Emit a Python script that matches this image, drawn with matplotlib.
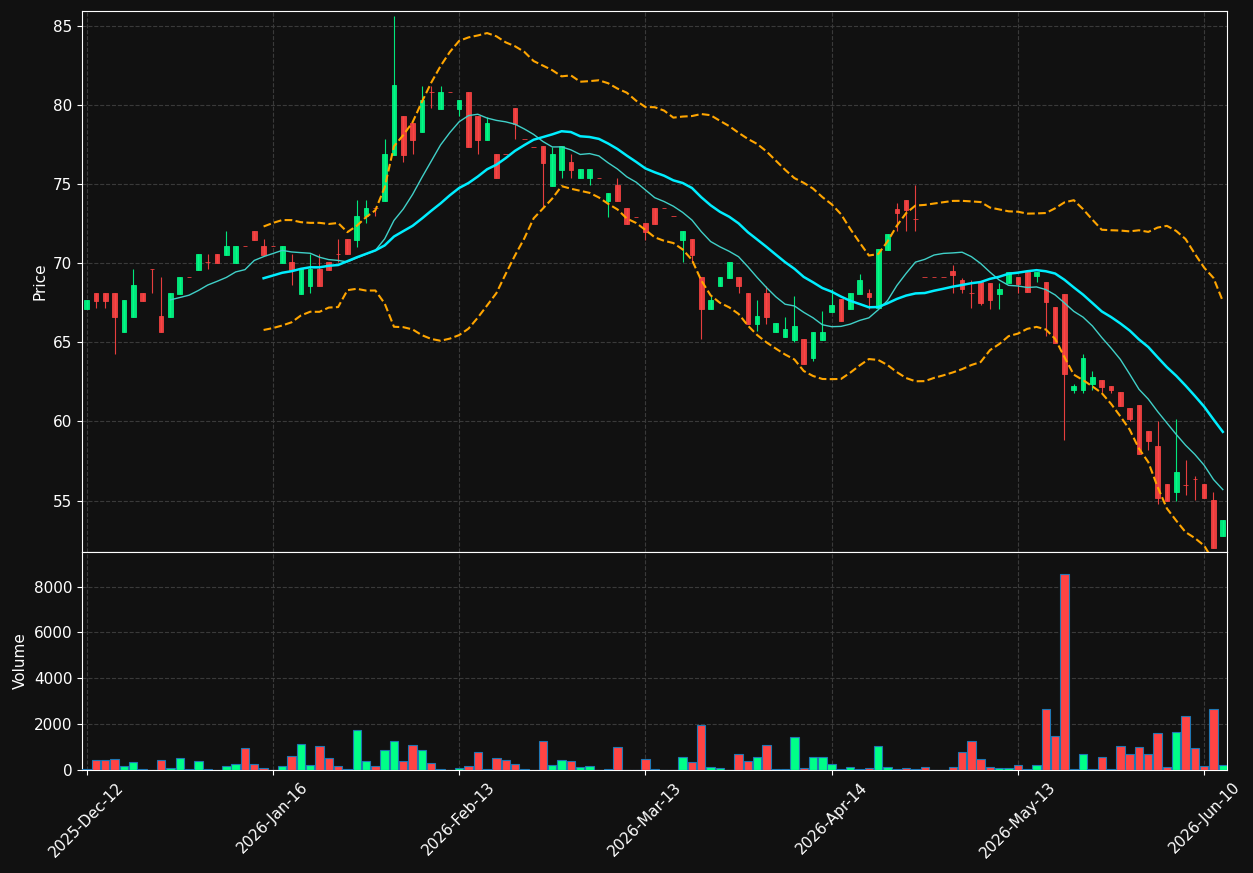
import numpy as np
import pandas as pd
import matplotlib
matplotlib.use("Agg")
import matplotlib.pyplot as plt

# ---------------- data ----------------
opens = [67.11, 68.12, 68.12, 68.12, 65.68, 66.63, 68.12, 69.62, 66.67, 66.63,
         68.08, 69.12, 69.60, 70.06, 70.59, 70.55, 70.04, 71.07, 72.02, 71.10,
         71.10, 70.05, 70.07, 68.07, 68.58, 69.63, 70.07, 70.58, 71.55, 71.48,
         72.98, 73.48, 73.97, 76.87, 79.32, 78.85, 78.33, 80.83, 79.78, 80.83,
         79.78, 80.82, 79.30, 77.78, 76.90, 76.88, 79.81, 77.83, 77.38, 77.41,
         74.89, 75.89, 76.39, 75.40, 75.40, 75.42, 73.92, 74.94, 73.48, 72.95,
         72.53, 73.50, 73.48, 72.97, 71.48, 71.54, 69.11, 67.13, 68.59, 69.09,
         69.13, 68.12, 66.18, 68.12, 65.68, 65.36, 65.15, 65.21, 64.01, 65.15,
         66.94, 67.74, 67.13, 68.08, 68.12, 67.15, 70.86, 73.44, 74.01, 72.78,
         69.11, 69.11, 69.11, 69.51, 68.95, 68.10, 68.84, 68.73, 68.08, 68.73,
         69.14, 69.45, 69.20, 68.82, 67.23, 68.06, 62.02, 62.02, 62.40, 62.61,
         62.23, 61.85, 60.84, 61.03, 59.42, 58.43, 56.02, 55.54, 56.00, 56.36,
         56.02, 55.01, 52.75]
highs = [67.68, 68.12, 68.12, 68.12, 67.68, 69.62, 68.12, 69.62, 69.12, 68.12,
         69.14, 69.12, 70.59, 70.57, 70.59, 72.02, 71.10, 71.07, 72.02, 71.54,
         71.10, 71.11, 70.58, 69.63, 70.58, 70.58, 70.07, 71.53, 71.55, 73.99,
         73.99, 73.48, 77.84, 85.63, 79.32, 78.85, 81.21, 81.21, 81.21, 80.83,
         80.33, 80.82, 79.30, 79.26, 76.90, 76.88, 79.81, 77.83, 77.38, 77.41,
         77.36, 77.41, 76.90, 75.95, 75.95, 75.42, 74.43, 75.42, 73.48, 72.95,
         72.53, 73.50, 73.48, 72.97, 72.05, 71.54, 69.11, 68.00, 69.13, 70.08,
         69.13, 68.12, 67.68, 68.59, 66.22, 66.58, 67.91, 65.21, 65.68, 66.98,
         68.40, 67.74, 68.10, 69.32, 68.38, 70.91, 71.86, 73.82, 74.01, 74.94,
         69.11, 69.11, 69.11, 69.87, 69.09, 68.95, 68.84, 68.73, 68.73, 69.47,
         69.14, 69.45, 69.45, 68.82, 67.23, 68.06, 62.40, 64.24, 63.22, 62.61,
         62.23, 61.85, 60.84, 61.03, 59.42, 60.01, 56.02, 60.14, 57.59, 56.55,
         56.02, 55.54, 53.79]
lows = [67.11, 67.16, 67.16, 64.25, 65.68, 66.63, 67.62, 68.10, 65.68, 66.63,
        68.08, 69.12, 69.60, 69.62, 70.02, 70.55, 70.04, 71.07, 71.50, 70.53,
        71.10, 70.05, 68.62, 68.07, 68.12, 68.58, 69.59, 70.07, 70.56, 71.06,
        72.54, 73.00, 73.97, 76.87, 76.39, 76.89, 78.33, 79.80, 79.78, 80.83,
        79.32, 77.36, 76.88, 77.78, 75.40, 76.88, 77.83, 77.83, 77.38, 73.57,
        74.89, 75.40, 75.40, 75.40, 74.92, 75.42, 72.93, 73.92, 72.47, 72.95,
        71.47, 72.51, 73.48, 72.97, 70.08, 70.10, 65.19, 67.13, 68.59, 69.09,
        68.10, 66.18, 65.72, 66.18, 65.68, 65.36, 65.02, 63.65, 63.84, 65.15,
        66.94, 66.37, 67.13, 68.08, 67.13, 67.15, 70.86, 72.03, 72.03, 72.03,
        69.11, 69.11, 69.11, 68.10, 68.10, 67.15, 67.36, 67.13, 67.13, 68.73,
        68.10, 68.18, 68.80, 65.40, 64.98, 58.81, 61.83, 61.83, 62.02, 61.87,
        61.81, 61.00, 60.01, 57.97, 58.22, 54.80, 54.97, 54.97, 55.37, 55.01,
        55.16, 52.00, 52.75]
closes = [67.68, 67.62, 67.62, 66.63, 67.68, 68.63, 67.62, 69.62, 65.68, 68.12,
          69.14, 69.12, 70.59, 70.06, 70.02, 71.10, 71.10, 71.07, 71.50, 70.53,
          71.10, 71.11, 69.59, 69.63, 69.63, 68.58, 69.59, 70.58, 70.56, 73.00,
          73.48, 73.48, 76.92, 81.27, 76.87, 77.80, 80.33, 80.83, 80.83, 80.83,
          80.33, 77.36, 77.78, 78.86, 75.40, 76.88, 78.82, 77.83, 77.38, 76.35,
          76.90, 77.41, 75.89, 75.95, 75.95, 75.42, 74.43, 73.92, 72.47, 72.95,
          71.99, 72.51, 73.48, 72.97, 72.05, 70.55, 67.13, 67.68, 69.13, 70.08,
          68.59, 66.18, 66.67, 66.62, 66.22, 65.84, 66.03, 63.65, 65.68, 65.68,
          67.36, 66.37, 68.10, 68.95, 67.89, 70.91, 71.86, 73.16, 73.38, 72.78,
          69.11, 69.11, 69.11, 69.26, 68.35, 68.10, 67.51, 67.70, 68.35, 69.47,
          68.70, 68.18, 69.45, 67.57, 64.98, 63.01, 62.23, 64.00, 62.80, 62.19,
          62.02, 61.00, 60.16, 57.97, 58.77, 55.16, 54.97, 56.78, 56.00, 56.36,
          55.16, 52.00, 53.79]
volumes = [58, 437, 437, 495, 189, 364, 25, 0, 451, 102,
           538, 25, 407, 25, 0, 189, 276, 975, 276, 102,
           0, 189, 626, 1150, 233, 1062, 538, 189, 58, 1760,
           407, 189, 888, 1280, 407, 1106, 888, 320, 25, 0,
           102, 189, 800, 58, 538, 451, 276, 25, 0, 1280,
           233, 451, 407, 145, 189, 0, 25, 1018, 0, 0,
           495, 25, 0, 0, 582, 364, 1979, 145, 102, 0,
           713, 407, 582, 1106, 25, 58, 1455, 102, 582, 582,
           276, 25, 145, 25, 102, 1062, 145, 58, 102, 58,
           145, 0, 0, 145, 800, 1280, 495, 145, 102, 102,
           233, 25, 233, 2677, 1499, 8570, 58, 713, 25, 582,
           25, 1062, 713, 1018, 713, 1630, 145, 1673, 2372, 975,
           189, 2677, 233]
tick_positions = [0, 20, 40, 60, 80, 100, 120]
tick_labels = ["2025-Dec-12", "2026-Jan-16", "2026-Feb-13", "2026-Mar-13",
               "2026-Apr-14", "2026-May-13", "2026-Jun-10"]

# ---------------- styling ----------------
BG = '#111111'
UP = '#00ff88'
DOWN = '#ff4444'
GRID = '#3a3a3a'
FS = 11

df = pd.DataFrame({'Open': opens, 'High': highs, 'Low': lows,
                   'Close': closes, 'Volume': volumes})
x = np.arange(len(df))
sma10 = df['Close'].rolling(10).mean()
sma20 = df['Close'].rolling(20).mean()
std20 = df['Close'].rolling(20).std(ddof=0)
upper = sma20 + 2 * std20
lower = sma20 - 2 * std20

up = (df['Close'] > df['Open']).values
colors = np.where(up, UP, DOWN)

fig = plt.figure(figsize=(12.53, 8.73), dpi=100, facecolor=BG)
ax = fig.add_axes([0.06544, 0.3677, 0.9138, 0.6197], facecolor=BG)
axv = fig.add_axes([0.06544, 0.1180, 0.9138, 0.2497], facecolor=BG, sharex=ax)

# candles
ax.vlines(x, df['Low'], df['High'], colors=colors, lw=0.8, zorder=2, alpha=0.9)
bottoms = np.minimum(df['Open'], df['Close'])
heights = np.abs(df['Close'] - df['Open'])
ax.bar(x, heights, bottom=bottoms, width=0.5, color=colors, edgecolor=colors,
       linewidth=0.6, zorder=3, alpha=0.9)

# indicators
ax.plot(x, sma10, color='#40d0c8', lw=1.0, zorder=4)
ax.plot(x, sma20, color='#00eeff', lw=1.8, zorder=4)
ax.plot(x, upper, color='orange', lw=1.5, ls='--', zorder=4)
ax.plot(x, lower, color='orange', lw=1.5, ls='--', zorder=4)

# volume
axv.bar(x, df['Volume'], width=0.9, color=colors, edgecolor='#1f77b4',
        linewidth=0.8, zorder=3)

ax.set_xlim(-0.5, 122.45)
ax.set_ylim(51.75, 85.95)
axv.set_ylim(0, max(volumes) * 1.11)

ax.set_yticks([55, 60, 65, 70, 75, 80, 85])
axv.set_yticks([0, 2000, 4000, 6000, 8000])
axv.set_xticks(tick_positions)
axv.set_xticklabels(tick_labels, rotation=45)

for a in (ax, axv):
    a.grid(True, ls='--', color=GRID, lw=0.8, zorder=0)
    a.set_axisbelow(True)
    a.tick_params(colors='white', labelsize=FS)
    for s in a.spines.values():
        s.set_color('white')
ax.tick_params(labelbottom=False, bottom=False)

ax.set_ylabel('Price', color='white', fontsize=FS)
axv.set_ylabel('Volume', color='white', fontsize=FS)

fig.savefig('out.png', dpi=100, facecolor=BG)
